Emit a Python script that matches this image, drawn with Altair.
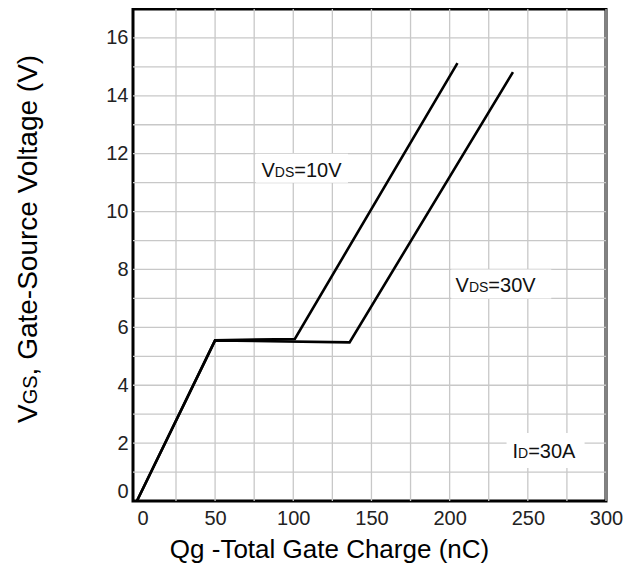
import altair as alt
import pandas as pd

# ---- data ----
q_vds10 = [0, 50, 101, 205]
vgs_vds10 = [0, 5.55, 5.6, 15.13]
q_vds30 = [0, 50, 136, 240.5]
vgs_vds30 = [0, 5.55, 5.48, 14.82]

x_ticks = list(range(0, 301, 25))
y_ticks = list(range(0, 17))
x_grid = list(range(25, 301, 25))
y_grid = list(range(1, 17))

x_title = "Qg -Total Gate Charge (nC)"
y_title_parts = ["V", "GS", ", Gate-Source Voltage (V)"]

# annotation texts (main, subscript, rest)
ann_texts = [["V", "DS", "=10V"], ["V", "DS", "=30V"], ["I", "D", "=30A"]]
ann_q = [79.7, 203.8, 240.2]
ann_v = [11.2, 7.22, 1.49]
box_q1 = [76, 201, 236.4]
box_q2 = [135, 265, 286.3]
box_v1 = [11, 7, 1.14]
box_v2 = [12, 8, 2.35]

FONT = "Liberation Sans"
BIG, SUB = 20, 14
TBIG, TSUB = 28, 20
GRID = "#c8c8c8"

# Arial / Liberation Sans advance widths (em)
W = {"V": .667, "D": .722, "S": .667, "G": .778, "I": .278, "=": .584,
     "0": .556, "1": .556, "3": .556, "A": .667, ",": .278, " ": .278}


def tw(s, size):
    return sum(W.get(c, .556) for c in s) * size


lines_df = pd.DataFrame({
    "q": q_vds10 + q_vds30,
    "vgs": vgs_vds10 + vgs_vds30,
    "series": ["10V"] * len(q_vds10) + ["30V"] * len(q_vds30),
    "order": list(range(len(q_vds10))) + list(range(len(q_vds30))),
})

x_scale = alt.Scale(domain=[-2.5, 300], nice=False, zero=False)
y_scale = alt.Scale(domain=[0, 17], nice=False, zero=False)

x_axis = alt.Axis(
    values=x_ticks,
    labelExpr="datum.value % 50 == 0 ? datum.label : ''",
    labelAlign={"condition": {"test": "datum.value == 0", "value": "left"}, "value": "center"},
    title=x_title,
    titleX=196,
    titleY=56,
    titleAlign="center",
    titleBaseline="alphabetic",
    titleFontSize=26,
    titleFont=FONT,
    titleFontWeight="normal",
    titleColor="#000000",
    labelPadding=7,
)
y_axis = alt.Axis(
    values=y_ticks,
    labelExpr="datum.value % 2 == 0 ? datum.label : ''",
    labelBaseline={"condition": {"test": "datum.value == 0", "value": "bottom"}, "value": "middle"},
    title=None,
    labelPadding=5,
)


def X(field="q"):
    return alt.X(f"{field}:Q", scale=x_scale, axis=x_axis)


def Y(field="vgs"):
    return alt.Y(f"{field}:Q", scale=y_scale, axis=y_axis)


vgrid = alt.Chart(pd.DataFrame({"q": x_grid})).mark_rule(
    color=GRID, strokeWidth=1.3
).encode(x=X())
hgrid = alt.Chart(pd.DataFrame({"vgs": y_grid})).mark_rule(
    color=GRID, strokeWidth=1.3
).encode(y=Y())

lines = alt.Chart(lines_df).mark_line(color="#000000", strokeWidth=2.6).encode(
    x=X(), y=Y(), detail="series:N", order="order:Q"
)

box_df = pd.DataFrame({"q": box_q1, "q2": box_q2, "vgs": box_v1, "vgs2": box_v2})
boxes = alt.Chart(box_df).mark_rect(color="#ffffff").encode(
    x=X(), x2="q2:Q", y=Y(), y2="vgs2:Q"
)

layers = [vgrid, hgrid, boxes, lines]

# annotation text pieces
for i, parts in enumerate(ann_texts):
    offset = 0.0
    for j, part in enumerate(parts):
        size = SUB if j == 1 else BIG
        df = pd.DataFrame({"q": [ann_q[i]], "vgs": [ann_v[i]], "t": [part]})
        layers.append(
            alt.Chart(df).mark_text(
                align="left", baseline="alphabetic", font=FONT, fontSize=size,
                color="#111111", dx=offset
            ).encode(x=X(), y=Y(), text="t:N")
        )
        offset += tw(part, size)

# y title with subscript, rotated
offset = 0.0
for j, part in enumerate(y_title_parts):
    size = TSUB if j == 1 else TBIG
    df = pd.DataFrame({"t": [part]})
    layers.append(
        alt.Chart(df).mark_text(
            align="left", baseline="alphabetic", font=FONT, fontSize=size,
            color="#000000", angle=270, dx=offset
        ).encode(x=alt.value(-96.5), y=alt.value(414), text="t:N")
    )
    offset += tw(part, size)

chart = alt.layer(*layers).properties(
    width=473,
    height=492,
    autosize=alt.AutoSizeParams(type="none"),
    padding={"left": 125, "top": 1, "right": 22, "bottom": 64},
).configure_view(
    stroke="#000000", strokeWidth=3
).configure_axis(
    domain=False,
    ticks=False,
    grid=False,
    labelFont=FONT,
    labelFontSize=20,
    labelColor="#222222",
)

chart.save("out.html", embed_options={"renderer": "svg", "actions": False})
